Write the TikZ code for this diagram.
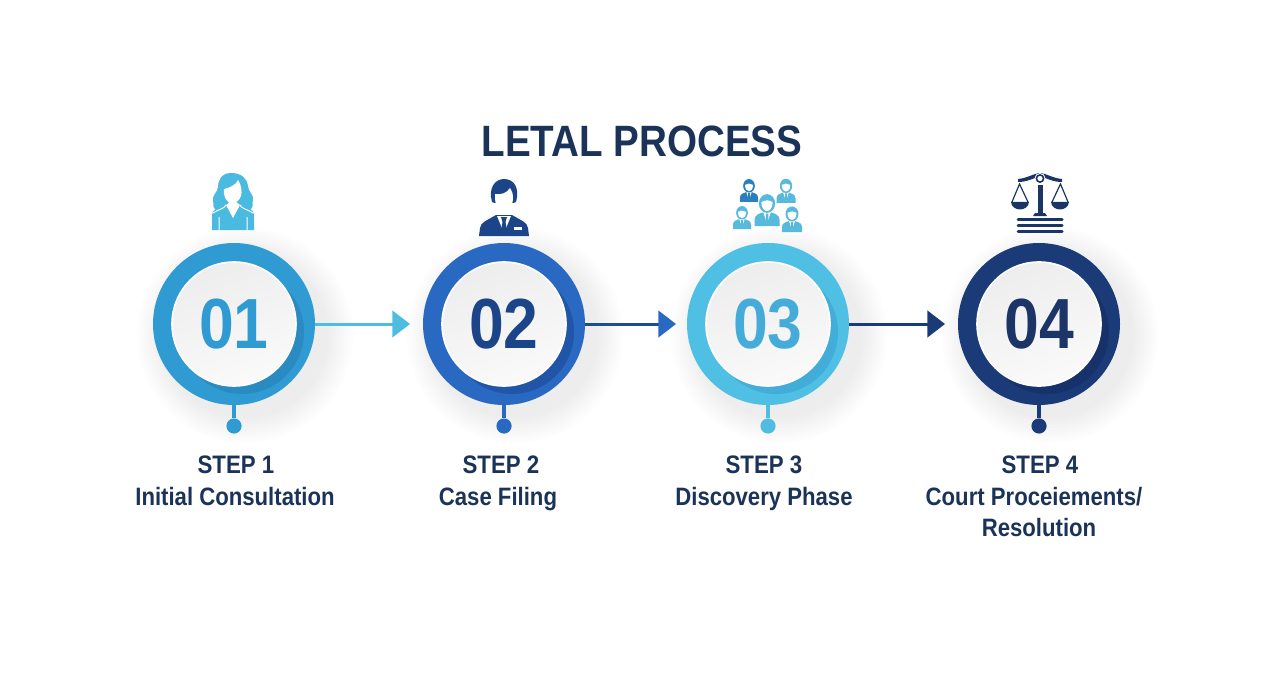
\documentclass[tikz,border=0pt]{standalone}
\usepackage{fontspec}
\setmainfont[FakeStretch=.88]{Liberation Sans}
\usetikzlibrary{arrows.meta,positioning}
\definecolor{legalink}{HTML}{1B3358}
\definecolor{bluea}{HTML}{2F9BD2}
\definecolor{blueashade}{HTML}{2A8AC2}
\definecolor{arrowa}{HTML}{4FBDE0}
\definecolor{blueb}{HTML}{2A69C2}
\definecolor{bluebshade}{HTML}{2155A8}
\definecolor{numberb}{HTML}{1C4488}
\definecolor{arrowb}{HTML}{1F4E90}
\definecolor{bluec}{HTML}{4FC0E4}
\definecolor{bluecshade}{HTML}{41ADD8}
\definecolor{numberc}{HTML}{45ACD9}
\definecolor{blued}{HTML}{1B3B78}
\definecolor{bluedshade}{HTML}{17326A}
\definecolor{numberd}{HTML}{1B3566}
\definecolor{groupdark}{HTML}{2B7FBF}
\definecolor{grouplight}{HTML}{57B9DC}
\tikzset{
  ring/.style={circle,inner sep=0pt,minimum size=4.05cm},
  disc/.style={circle,inner sep=0pt,minimum size=3.1cm,draw=white,line width=.4mm,
    left color=black!7,right color=black!2,shading angle=20,
    font=\fontsize{50.5}{54}\selectfont\bfseries},
  dot/.style={circle,inner sep=0pt,minimum size=3.8mm},
  stem/.style={line width=1mm},
  steptitle/.style={anchor=base,text=legalink,font=\fontsize{18}{22}\selectfont\bfseries},
  steptext/.style={anchor=base,text=legalink,font=\fontsize{17.9}{22}\selectfont\bfseries},
  flow/.style={line width=.75mm,-{Triangle[length=4.4mm,width=6.6mm,color=#1]}},
  pics/softshadow/.style={code={
    \foreach \r in {84,87,...,108} {\fill[black,opacity=.007] (0,0) circle (\r);}
  }},
  pics/smallman/.style={code={
    \fill[#1] (-10,0) -- (-10,5) .. controls (-10,9) and (-6,10) .. (-3,11) -- (3,11)
      .. controls (6,10) and (10,9) .. (10,5) -- (10,0) -- cycle;
    \fill[white] (-3,11) -- (0,2) -- (3,11) -- cycle;
    \fill[#1] (-1,10) -- (1,10) -- (1,3) -- (0,2) -- (-1,3) -- cycle;
    \fill[#1] (0,18) ellipse (6.5 and 7.5);
    \fill[white] (-4.5,19) .. controls (-2,21) and (2,21) .. (4.5,19)
      .. controls (4.5,14) and (2,12) .. (0,12) .. controls (-2,12) and (-4.5,14) .. (-4.5,19);
  }}
}

\begin{document}
\begin{tikzpicture}[x=.25mm,y=.25mm]
        \useasboundingbox (0,0) rectangle (1280,698);

        \node[text=legalink,font=\fontsize{31.2}{34}\selectfont\bfseries] (heading) at (642,557) {LETAL PROCESS};

        % soft shadows under the rings
        \pic at (245,363) {softshadow};
        \pic at (515,363) {softshadow};
        \pic at (779,363) {softshadow};
        \pic at (1050,363) {softshadow};

        % rings
        \node[ring,fill=bluea] (ringa) at (234,374) {};
        \node[ring,fill=blueb] (ringb) at (504,374) {};
        \node[ring,fill=bluec] (ringc) at (768,374) {};
        \node[ring,fill=blued] (ringd) at (1039,374) {};

        \fill[blueashade] (242,366) circle (62);
        \fill[bluebshade] (512,366) circle (62);
        \fill[bluecshade] (776,366) circle (62);
        \fill[bluedshade] (1047,366) circle (62);

        \node[disc,text=bluea] (disca) at (234,374) {01};
        \node[disc,text=numberb] (discb) at (504,374) {02};
        \node[disc,text=numberc] (discc) at (768,374) {03};
        \node[disc,text=numberd] (discd) at (1039,374) {04};

        % arrows between the rings
        \coordinate (tipa) at (410,374);
        \coordinate (tipb) at (676,374);
        \coordinate (tipc) at (945,374);
        \draw[flow=arrowa,arrowa] (ringa) -- (tipa);
        \draw[flow=blueb,arrowb] (ringb) -- (tipb);
        \draw[flow=blued,blued] (ringc) -- (tipc);

        % stems and dots
        \node[dot,fill=bluea] (dota) at (234,272) {};
        \node[dot,fill=blueb] (dotb) at (504,272) {};
        \node[dot,fill=arrowa] (dotc) at (768,272) {};
        \node[dot,fill=blued] (dotd) at (1039,272) {};
        \draw[stem,bluea] (ringa) -- (dota);
        \draw[stem,blueb] (ringb) -- (dotb);
        \draw[stem,arrowa] (ringc) -- (dotc);
        \draw[stem,blued] (ringd) -- (dotd);

        % labels
        \node[steptitle] (titlea) at (236,225) {STEP 1};
        \node[steptext] (texta) at (235,193) {Initial Consultation};
        \node[steptitle] (titleb) at (501,225) {STEP 2};
        \node[steptext] (textb) at (498,193) {Case Filing};
        \node[steptitle] (titlec) at (764,225) {STEP 3};
        \node[steptext] (textc) at (764,193) {Discovery Phase};
        \node[steptitle] (titled) at (1040,225) {STEP 4};
        \node[steptext] (textd) at (1034,193) {Court Proceiements/};
        \node[steptext] (texte) at (1039,162) {Resolution};

        % woman icon
        \begin{scope}[shift={(233,468)},bluec!85!bluea]
          \fill (-2,57) .. controls (-12,57) and (-15,49) .. (-15,43)
            .. controls (-15,38) and (-21,35) .. (-20,30) .. controls (-19,26) and (-21,24) .. (-18,21)
            -- (18,21) .. controls (21,24) and (19,27) .. (20,31)
            .. controls (21,35) and (15,38) .. (15,44) .. controls (14,52) and (8,57) .. (-2,57);
          \fill (-21,0) -- (-21,15) .. controls (-21,21) and (-14,23) .. (-7,25) -- (7,25)
            .. controls (14,23) and (21,21) .. (21,15) -- (21,0) -- cycle;
          \fill[white] (-9,41) .. controls (-4,42) and (3,45) .. (5,50)
            .. controls (9,44) and (9,38) .. (8,34) .. controls (6,29) and (2,26) .. (-1,26)
            .. controls (-5,27) and (-10,32) .. (-9,41);
          \fill[white] (-7,25) -- (0,12) -- (7,25) -- (3,28) -- (-3,28) -- cycle;
          \draw[white,line width=.25mm] (-20,17) .. controls (-14,21) and (-9,21) .. (-7,25)
            (20,17) .. controls (14,21) and (9,21) .. (7,25)
            (-14,0) -- (-14,13) (14,0) -- (14,13);
        \end{scope}

        % man icon
        \begin{scope}[shift={(504,462)},numberb]
          \fill (-12,34) .. controls (-16,48) and (-9,57) .. (0,57)
            .. controls (10,57) and (16,48) .. (12,34) .. controls (10,32) and (-10,32) .. (-12,34);
          \fill[white] (-9,42) .. controls (-3,41) and (3,43) .. (6,48)
            .. controls (8,45) and (9,43) .. (9,37) .. controls (9,30) and (4,23) .. (0,23)
            .. controls (-4,23) and (-9,30) .. (-9,37) -- cycle;
          \fill (-25,0) -- (-24,8) .. controls (-23,14) and (-18,15) .. (-8,21) -- (8,21)
            .. controls (18,15) and (23,14) .. (24,8) -- (25,0) -- cycle;
          \fill[white] (-7,20) -- (0,3) -- (7,20) -- cycle;
          \fill (-3,19) -- (3,19) -- (1.5,14) -- (3,5) -- (0,1) -- (-3,5) -- (-1.5,14) -- cycle;
          \fill[white] (10,6) rectangle (18,9);
        \end{scope}

        % group icon
        \pic[scale=.9] at (749,496) {smallman=groupdark};
        \pic[scale=.95] at (786,495) {smallman=grouplight};
        \pic[scale=1.25] at (767,472) {smallman=grouplight};
        \pic[scale=.9] at (742,469) {smallman=grouplight};
        \pic[scale=1] at (792,466) {smallman=grouplight};

        % scales icon
        \begin{scope}[numberd]
          \fill (1018,516) .. controls (1028,516) and (1032,520) .. (1040,521)
            .. controls (1048,520) and (1052,516) .. (1062,516) -- (1062,519)
            .. controls (1052,520) and (1048,524) .. (1040,525)
            .. controls (1032,524) and (1028,520) .. (1018,519) -- cycle;
          \fill[white] (1040,519.5) circle (5.5);
          \draw[line width=.4mm] (1040,519.5) circle (3.6);
          \fill (1037.5,513) rectangle (1042.5,485);
          \fill (1033,482) -- (1035,485) -- (1045,485) -- (1047,482) -- cycle;
          \draw[line width=.3mm] (1012,496) -- (1019.5,514) -- (1028,496);
          \draw[line width=.3mm] (1052,496) -- (1060.5,514) -- (1068,496);
          \fill (1011,496) -- (1029,496) .. controls (1028,486) and (1012,486) .. (1011,496);
          \fill (1051,496) -- (1069,496) .. controls (1068,486) and (1052,486) .. (1051,496);
          \draw[line width=.75mm,line cap=round] (1018,479) -- (1062,479);
          \draw[line width=.75mm,line cap=round] (1018,473) -- (1062,473);
          \draw[line width=.75mm,line cap=round] (1018,467) -- (1062,467);
        \end{scope}
      \end{tikzpicture}
\end{document}
